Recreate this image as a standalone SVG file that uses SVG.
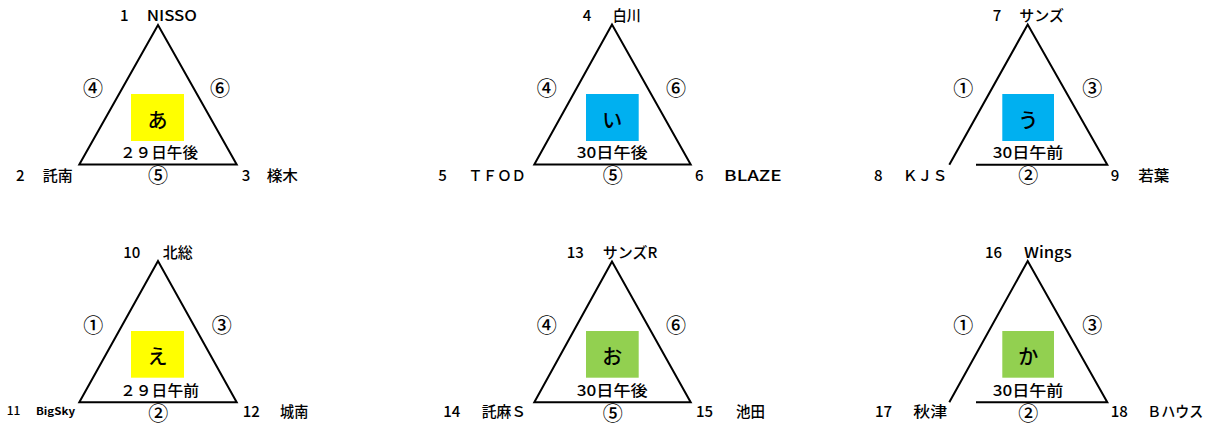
<svg xmlns="http://www.w3.org/2000/svg" width="1206" height="425" viewBox="0 0 1206 425">
<style>
text{font-family:"Noto Sans CJK JP","Liberation Sans",sans-serif;fill:#000;font-weight:500}
.lb{font-size:15px}
.sm{font-size:10px;font-weight:bold}
.dt{font-size:15px}
.cn{font-size:20px;text-anchor:middle;dominant-baseline:central}
.kn{font-size:20px;text-anchor:middle;dominant-baseline:central}
.tri{fill:none;stroke:#000;stroke-width:2;stroke-linejoin:miter}
.y{fill:#FFFF00}.b{fill:#00B0F0}.g{fill:#92D050}
</style>
<rect width="1206" height="425" fill="#fff"/>
<g id="connectors">
<path class="tri" d="M158,25 L79.3,164.5 L236.7,164.5 Z"/>
<path class="tri" d="M612,24.5 L534.3,164.5 L690.7,164.5 Z"/>
<path class="tri" d="M949.3,164.7 L1027.7,24.5 L1107.3,164.7 L976,164.7"/>
<path class="tri" d="M158,261 L79.3,402.3 L236.7,402.3 Z"/>
<path class="tri" d="M612,261.5 L534.3,402.3 L690.7,402.3 Z"/>
<path class="tri" d="M949.3,402.3 L1027.7,261 L1107.3,402.3 L976,402.3"/>
</g>
<g id="group-a">
<rect class="y" x="131" y="94" width="53" height="47"/>
<text class="kn" x="157.5" y="119">あ</text>
<text class="dt" x="120" y="157.5" textLength="78" lengthAdjust="spacingAndGlyphs">２９日午後</text>
<text class="cn" x="93" y="87">④</text>
<text class="cn" x="220" y="87">⑥</text>
<text class="cn" x="158" y="174">⑤</text>
</g>
<g id="team-1"><text class="lb" y="20.5"><tspan x="120">1 </tspan><tspan x="146.7" textLength="50.3" lengthAdjust="spacingAndGlyphs">NISSO</tspan></text></g>
<g id="team-2"><text class="lb" y="181"><tspan x="16">2 </tspan><tspan x="42.7" textLength="30" lengthAdjust="spacingAndGlyphs">託南</tspan></text></g>
<g id="team-3"><text class="lb" y="181"><tspan x="241.7">3 </tspan><tspan x="266.7" textLength="31.3" lengthAdjust="spacingAndGlyphs">檪木</tspan></text></g>
<g id="group-i">
<rect class="b" x="586" y="94" width="52.7" height="47"/>
<text class="kn" x="612.3" y="119">い</text>
<text class="dt" x="576.7" y="157.5" textLength="71" lengthAdjust="spacingAndGlyphs">30日午後</text>
<text class="cn" x="546.7" y="87">④</text>
<text class="cn" x="676" y="87">⑥</text>
<text class="cn" x="612.7" y="174">⑤</text>
</g>
<g id="team-4"><text class="lb" y="20.5"><tspan x="582.7">4 </tspan><tspan x="612.7" textLength="28" lengthAdjust="spacingAndGlyphs">白川</tspan></text></g>
<g id="team-5"><text class="lb" y="181"><tspan x="438.3">5 </tspan><tspan x="468.3" textLength="57.7" lengthAdjust="spacingAndGlyphs">ＴＦＯＤ</tspan></text></g>
<g id="team-6"><text class="lb" y="181"><tspan x="695">6 </tspan><tspan x="724" textLength="57.7" lengthAdjust="spacingAndGlyphs">BLAZE</tspan></text></g>
<g id="group-u">
<rect class="b" x="1002.3" y="94" width="51.7" height="47"/>
<text class="kn" x="1028.2" y="119">う</text>
<text class="dt" x="992.7" y="157.5" textLength="70.7" lengthAdjust="spacingAndGlyphs">30日午前</text>
<text class="cn" x="963.3" y="87">①</text>
<text class="cn" x="1092.3" y="87">③</text>
<text class="cn" x="1028.3" y="174">②</text>
</g>
<g id="team-7"><text class="lb" y="20.5"><tspan x="992.7">7 </tspan><tspan x="1019.3" textLength="44.7" lengthAdjust="spacingAndGlyphs">サンズ</tspan></text></g>
<g id="team-8"><text class="lb" y="181"><tspan x="874">8 </tspan><tspan x="902.7" textLength="44.6" lengthAdjust="spacingAndGlyphs">ＫＪＳ</tspan></text></g>
<g id="team-9"><text class="lb" y="181"><tspan x="1110.7">9 </tspan><tspan x="1138.3" textLength="31" lengthAdjust="spacingAndGlyphs">若葉</tspan></text></g>
<g id="group-e">
<rect class="y" x="131" y="331" width="53" height="46.7"/>
<text class="kn" x="157.5" y="355.5">え</text>
<text class="dt" x="120" y="395.5" textLength="79" lengthAdjust="spacingAndGlyphs">２９日午前</text>
<text class="cn" x="93.3" y="324">①</text>
<text class="cn" x="221.7" y="324">③</text>
<text class="cn" x="158.3" y="412.3">②</text>
</g>
<g id="team-10"><text class="lb" y="258"><tspan x="123.3">10 </tspan><tspan x="162.7" textLength="30" lengthAdjust="spacingAndGlyphs">北総</tspan></text></g>
<g id="team-11"><text y="415"><tspan x="6.7" font-size="12px">11 </tspan><tspan x="36" class="sm" textLength="39" lengthAdjust="spacingAndGlyphs">BigSky</tspan></text></g>
<g id="team-12"><text class="lb" y="417"><tspan x="242.7">12 </tspan><tspan x="280" textLength="28.3" lengthAdjust="spacingAndGlyphs">城南</tspan></text></g>
<g id="group-o">
<rect class="g" x="586" y="331" width="52.7" height="46.7"/>
<text class="kn" x="612.3" y="355.5">お</text>
<text class="dt" x="576.7" y="395.5" textLength="71" lengthAdjust="spacingAndGlyphs">30日午後</text>
<text class="cn" x="546.7" y="324">④</text>
<text class="cn" x="676" y="324">⑥</text>
<text class="cn" x="612.7" y="412.3">⑤</text>
</g>
<g id="team-13"><text class="lb" y="258"><tspan x="566.7">13 </tspan><tspan x="602.7" textLength="54.6" lengthAdjust="spacingAndGlyphs">サンズR</tspan></text></g>
<g id="team-14"><text class="lb" y="417"><tspan x="443.3">14 </tspan><tspan x="481.7" textLength="44.3" lengthAdjust="spacingAndGlyphs">託麻Ｓ</tspan></text></g>
<g id="team-15"><text class="lb" y="417"><tspan x="696">15 </tspan><tspan x="736" textLength="29" lengthAdjust="spacingAndGlyphs">池田</tspan></text></g>
<g id="group-ka">
<rect class="g" x="1002.3" y="331" width="51.7" height="46.7"/>
<text class="kn" x="1028.2" y="355.5">か</text>
<text class="dt" x="992.7" y="395.5" textLength="70.7" lengthAdjust="spacingAndGlyphs">30日午前</text>
<text class="cn" x="963.3" y="324">①</text>
<text class="cn" x="1092.3" y="324">③</text>
<text class="cn" x="1028.3" y="412.3">②</text>
</g>
<g id="team-16"><text class="lb" y="258"><tspan x="985">16 </tspan><tspan x="1024" textLength="47.7" lengthAdjust="spacingAndGlyphs">Wings</tspan></text></g>
<g id="team-17"><text class="lb" y="417"><tspan x="875">17 </tspan><tspan x="913.3" textLength="34" lengthAdjust="spacingAndGlyphs">秋津</tspan></text></g>
<g id="team-18"><text class="lb" y="417"><tspan x="1110.7">18 </tspan><tspan x="1147.3" textLength="56" lengthAdjust="spacingAndGlyphs">Ｂハウス</tspan></text></g>
</svg>
